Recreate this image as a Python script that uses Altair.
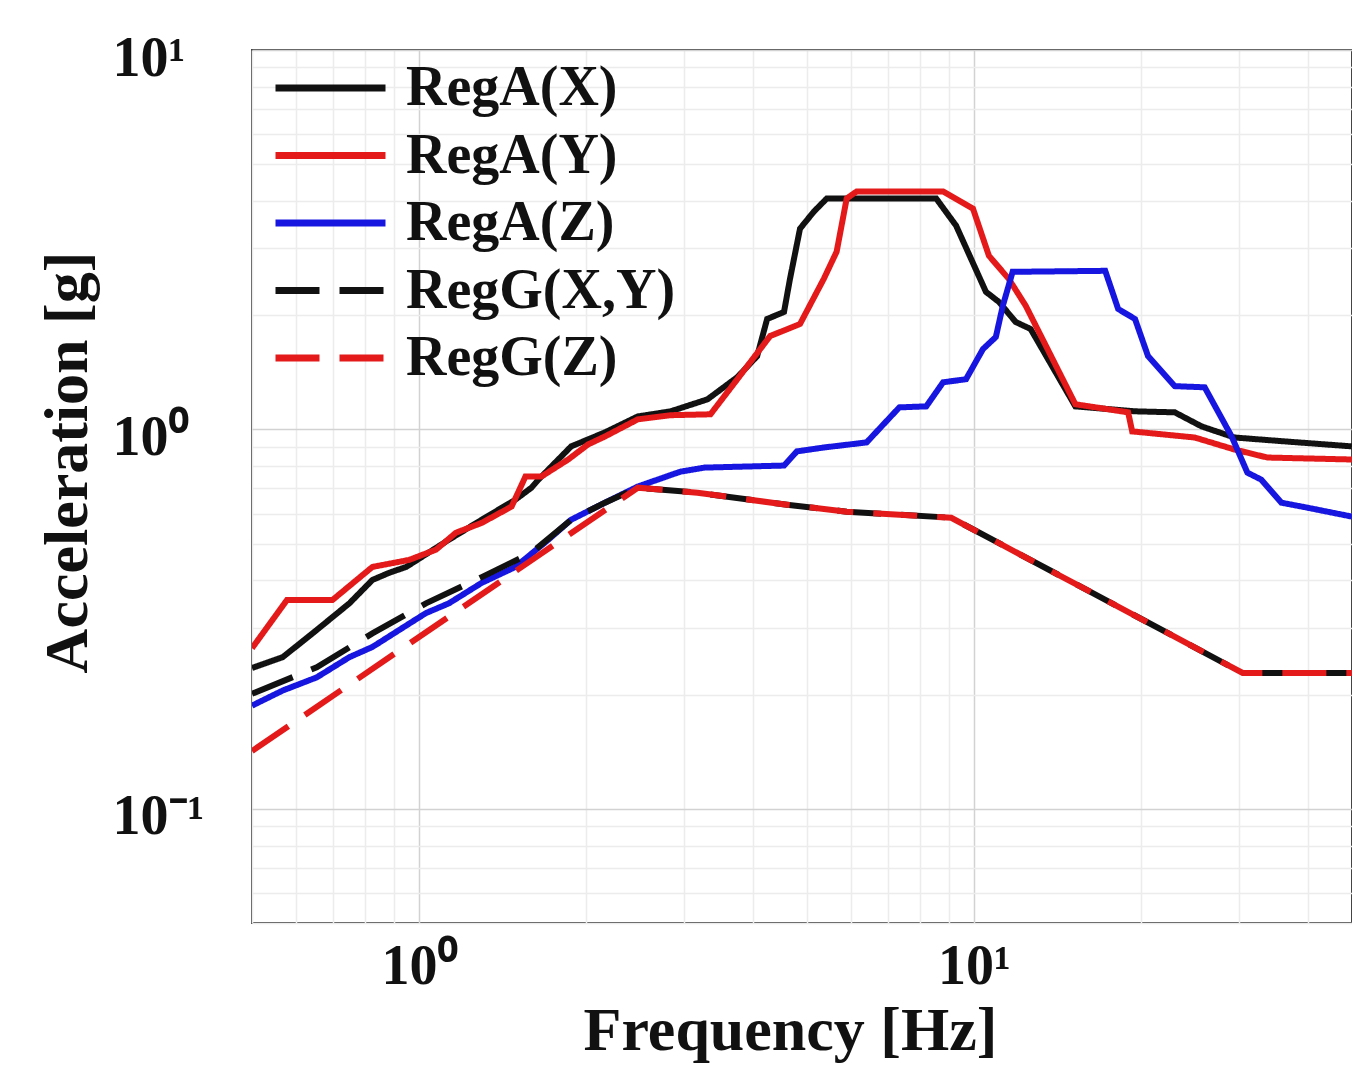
import altair as alt
import pandas as pd

series = ["RegA(X)", "RegA(Y)", "RegA(Z)", "RegG(X,Y)", "RegG(Z)"]
colors = ["#111111", "#e41a1a", "#1616e0", "#111111", "#e41a1a"]
dashes = [[1, 0], [1, 0], [1, 0], [44, 20], [44, 20]]

regA_x_f = [0.5, 0.568, 0.654, 0.749, 0.824, 0.884, 0.948, 1.132, 1.297, 1.492, 1.594, 1.641, 1.88, 2.163,
            2.479, 2.841, 3.309, 3.746, 4.067, 4.239, 4.547, 4.661, 4.859, 5.146, 5.43, 8.549, 9.285, 10.51,
            11.09, 11.89, 12.65, 15.23, 19.51, 23.01, 25.73, 29.48, 36.24, 48]
regA_x_a = [0.235, 0.251, 0.296, 0.348, 0.401, 0.419, 0.434, 0.512, 0.578, 0.653, 0.702, 0.737, 0.902, 0.982,
            1.082, 1.116, 1.20, 1.373, 1.56, 1.954, 2.04, 2.494, 3.382, 3.75, 4.061, 4.061, 3.444, 2.304,
            2.168, 1.919, 1.839, 1.15, 1.116, 1.109, 1.018, 0.952, 0.93, 0.902]

regA_y_f = [0.5, 0.578, 0.698, 0.824, 0.96, 1.073, 1.165, 1.297, 1.468, 1.555, 1.661, 1.857, 2.017, 2.163,
            2.479, 2.841, 3.351, 3.746, 4.292, 4.859, 5.363, 5.656, 5.897, 6.145, 8.799, 9.959, 10.64, 11.55,
            12.4, 15.23, 18.96, 19.28, 24.99, 29.48, 33.79, 48]
regA_y_a = [0.265, 0.355, 0.355, 0.434, 0.453, 0.482, 0.534, 0.567, 0.626, 0.751, 0.751, 0.833, 0.913, 0.958,
            1.063, 1.09, 1.096, 1.356, 1.762, 1.896, 2.494, 2.94, 4.061, 4.236, 4.236, 3.819, 2.869, 2.494,
            2.116, 1.165, 1.109, 0.988, 0.952, 0.885, 0.843, 0.833]

regA_z_f = [0.5, 0.568, 0.654, 0.749, 0.824, 0.921, 1.029, 1.132, 1.297, 1.492, 1.71, 1.88, 2.163, 2.479,
            2.96, 3.268, 4.547, 4.797, 5.363, 6.405, 7.337, 8.204, 8.799, 9.676, 10.38, 10.95, 11.27, 11.74,
            17.24, 18.19, 19.51, 20.59, 23.01, 26.05, 29.13, 31.1, 32.95, 35.8, 39.85, 48]
regA_z_a = [0.187, 0.205, 0.222, 0.251, 0.267, 0.296, 0.328, 0.348, 0.394, 0.434, 0.512, 0.578, 0.641, 0.707,
            0.774, 0.793, 0.803, 0.875, 0.896, 0.924, 1.143, 1.15, 1.331, 1.356, 1.628, 1.752, 2.116, 2.602,
            2.618, 2.077, 1.954, 1.56, 1.3, 1.291, 0.958, 0.769, 0.737, 0.641, 0.622, 0.589]

regG_xy_f = [0.5, 0.654, 0.824, 1.029, 1.297, 1.594, 1.88, 2.163, 2.479, 3.175, 4.604, 5.897, 9.1, 30.5, 48]
regG_xy_a = [0.201, 0.236, 0.29, 0.348, 0.408, 0.473, 0.578, 0.641, 0.702, 0.681, 0.633, 0.607, 0.585, 0.228, 0.228]

regG_z_f = [0.5, 2.479, 3.175, 4.604, 5.897, 9.1, 30.5, 48]
regG_z_a = [0.142, 0.702, 0.681, 0.633, 0.607, 0.585, 0.228, 0.228]

x_grid = [0.5, 0.6, 0.7, 0.8, 0.9, 1, 2, 3, 4, 5, 6, 7, 8, 9, 10, 20, 30, 40]
y_grid = [0.05, 0.06, 0.07, 0.08, 0.09, 0.1, 0.2, 0.3, 0.4, 0.5, 0.6, 0.7, 0.8, 0.9,
          1, 2, 3, 4, 5, 6, 7, 8, 9, 10]

rows = []
for name, fs, accs in [
    (series[0], regA_x_f, regA_x_a),
    (series[1], regA_y_f, regA_y_a),
    (series[2], regA_z_f, regA_z_a),
    (series[3], regG_xy_f, regG_xy_a),
    (series[4], regG_z_f, regG_z_a),
]:
    for f, a in zip(fs, accs):
        rows.append({"series": name, "f": f, "a": a})
df = pd.DataFrame(rows)

FONT = "Liberation Serif"
grid_color = {"condition": {"test": "datum.value == 1 || datum.value == 10 || datum.value == 0.1",
                            "value": "#d2d2d2"}, "value": "#ececec"}

legend = alt.Legend(
    title=None, orient="none", legendX=20, legendY=5, padding=0,
    symbolType="stroke", symbolSize=12100, symbolStrokeWidth=7,
    labelFont=FONT, labelFontSize=56, labelFontWeight="bold", labelColor="#111111",
    labelOffset=17, labelLimit=600, clipHeight=66, rowPadding=1.5,
)

x_axis = alt.Axis(
    values=x_grid, labelExpr="datum.value == 1 ? '10⁰' : datum.value == 10 ? '10¹' : ''",
    title="Frequency [Hz]", titleFont=FONT, titleFontSize=62, titleFontWeight="bold", titleColor="#111111",
    titleX=538, titleY=107, titleBaseline="middle", titleAlign="center",
    labelFont=FONT, labelFontSize=56, labelFontWeight="bold", labelColor="#111111",
    labelPadding=16, labelOverlap=False, labelFlush=False,
    ticks=False, tickSize=0, domain=False, grid=True, gridColor=grid_color, gridWidth=1.5,
)
y_axis = alt.Axis(
    values=y_grid,
    labelExpr="datum.value == 10 ? '10¹' : datum.value == 1 ? '10⁰' : datum.value == 0.1 ? '10⁻¹' : ''",
    title="Acceleration [g]", titleFont=FONT, titleFontSize=62, titleFontWeight="bold", titleColor="#111111",
    titleAngle=270, titleX=-185, titleY=412, titleBaseline="middle", titleAlign="center",
    labelFont=FONT, labelFontSize=56, labelFontWeight="bold", labelColor="#111111",
    labelAlign="left", labelBaseline="middle", labelPadding=140, labelOffset=8,
    labelOverlap=False, labelFlush=False,
    ticks=False, tickSize=0, domain=False, grid=True, gridColor=grid_color, gridWidth=1.5,
)

chart = alt.Chart(df).mark_line(strokeWidth=6, clip=True).encode(
    x=alt.X("f:Q", scale=alt.Scale(type="log", domain=[0.5, 48], nice=False), axis=x_axis),
    y=alt.Y("a:Q", scale=alt.Scale(type="log", domain=[0.05, 10], nice=False), axis=y_axis),
    color=alt.Color("series:N", scale=alt.Scale(domain=series, range=colors), legend=legend),
    strokeDash=alt.StrokeDash("series:N", scale=alt.Scale(domain=series, range=dashes), legend=legend),
).properties(
    width=1100, height=873,
    autosize=alt.AutoSizeParams(type="none"),
    padding={"left": 244, "top": 42, "right": 0, "bottom": 140},
).configure_view(stroke="#444444", strokeWidth=2)

chart.save("out.html", embed_options={"renderer": "svg", "actions": False})
